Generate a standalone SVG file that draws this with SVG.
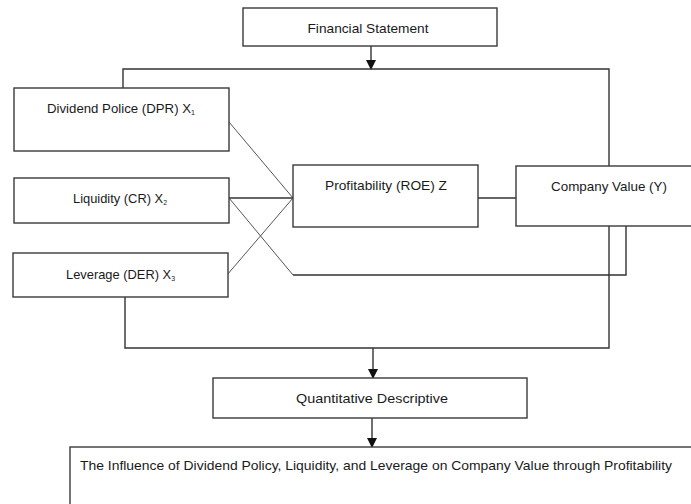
<svg xmlns="http://www.w3.org/2000/svg" width="691" height="504" viewBox="0 0 691 504">
<style>
.box{fill:#fff;stroke:#3a3a3a;stroke-width:1.4}
.ln{fill:none;stroke:#333;stroke-width:1.4}
.dg{fill:none;stroke:#555;stroke-width:1}
text{font-family:"Liberation Sans",Arial,sans-serif;font-size:13px;fill:#1a1a1a}
.sub{font-size:7px}
</style>
<defs>
<marker id="ah" markerUnits="userSpaceOnUse" markerWidth="10" markerHeight="12" refX="9" refY="5" orient="auto">
<path d="M0,0 L10,5 L0,10 Z" fill="#111"/>
</marker>
</defs>
<g id="connectors">
<path class="ln" d="M371,46 V69" marker-end="url(#ah)"/>
<path class="ln" d="M123,89 V69 H609 V166"/>
<path class="dg" d="M229,122 L293,198"/>
<path class="ln" d="M229,198 H293"/>
<path class="dg" d="M227,275 L293,198"/>
<path class="dg" d="M229,198 L293,275"/>
<path class="ln" d="M293,275 H626 V226"/>
<path class="ln" d="M478,198 H516"/>
<path class="ln" d="M125,297 V348 H609 V226"/>
<path class="ln" d="M373,348 V378" marker-end="url(#ah)"/>
<path class="ln" d="M372,418 V447" marker-end="url(#ah)"/>
</g>
<g id="financial-statement">
<rect class="box" x="243" y="8" width="254" height="38"/>
<text x="368" y="33" text-anchor="middle" textLength="121" lengthAdjust="spacingAndGlyphs">Financial Statement</text>
</g>
<g id="dividend">
<rect class="box" x="14" y="88" width="215" height="63"/>
<text x="47" y="113" textLength="148" lengthAdjust="spacingAndGlyphs">Dividend Police (DPR) X<tspan class="sub" dy="2">1</tspan></text>
</g>
<g id="liquidity">
<rect class="box" x="14" y="178" width="215" height="45"/>
<text x="73" y="203" textLength="94" lengthAdjust="spacingAndGlyphs">Liquidity (CR) X<tspan class="sub" dy="2">2</tspan></text>
</g>
<g id="leverage">
<rect class="box" x="13" y="253" width="215" height="44"/>
<text x="66" y="279" textLength="109" lengthAdjust="spacingAndGlyphs">Leverage (DER) X<tspan class="sub" dy="2">3</tspan></text>
</g>
<g id="profitability">
<rect class="box" x="293" y="165" width="185" height="62"/>
<text x="386" y="190" text-anchor="middle" textLength="122" lengthAdjust="spacingAndGlyphs">Profitability (ROE) Z</text>
</g>
<g id="company-value">
<rect class="box" x="516" y="166" width="180" height="60"/>
<text x="609" y="191" text-anchor="middle" textLength="116" lengthAdjust="spacingAndGlyphs">Company Value (Y)</text>
</g>
<g id="quantitative">
<rect class="box" x="213" y="378" width="314" height="40"/>
<text x="372" y="403" text-anchor="middle" textLength="152" lengthAdjust="spacingAndGlyphs">Quantitative Descriptive</text>
</g>
<g id="influence">
<rect class="box" x="70" y="447" width="628" height="70"/>
<text x="376" y="470" text-anchor="middle" textLength="592" lengthAdjust="spacingAndGlyphs">The Influence of Dividend Policy, Liquidity, and Leverage on Company Value through Profitability</text>
</g>
</svg>
